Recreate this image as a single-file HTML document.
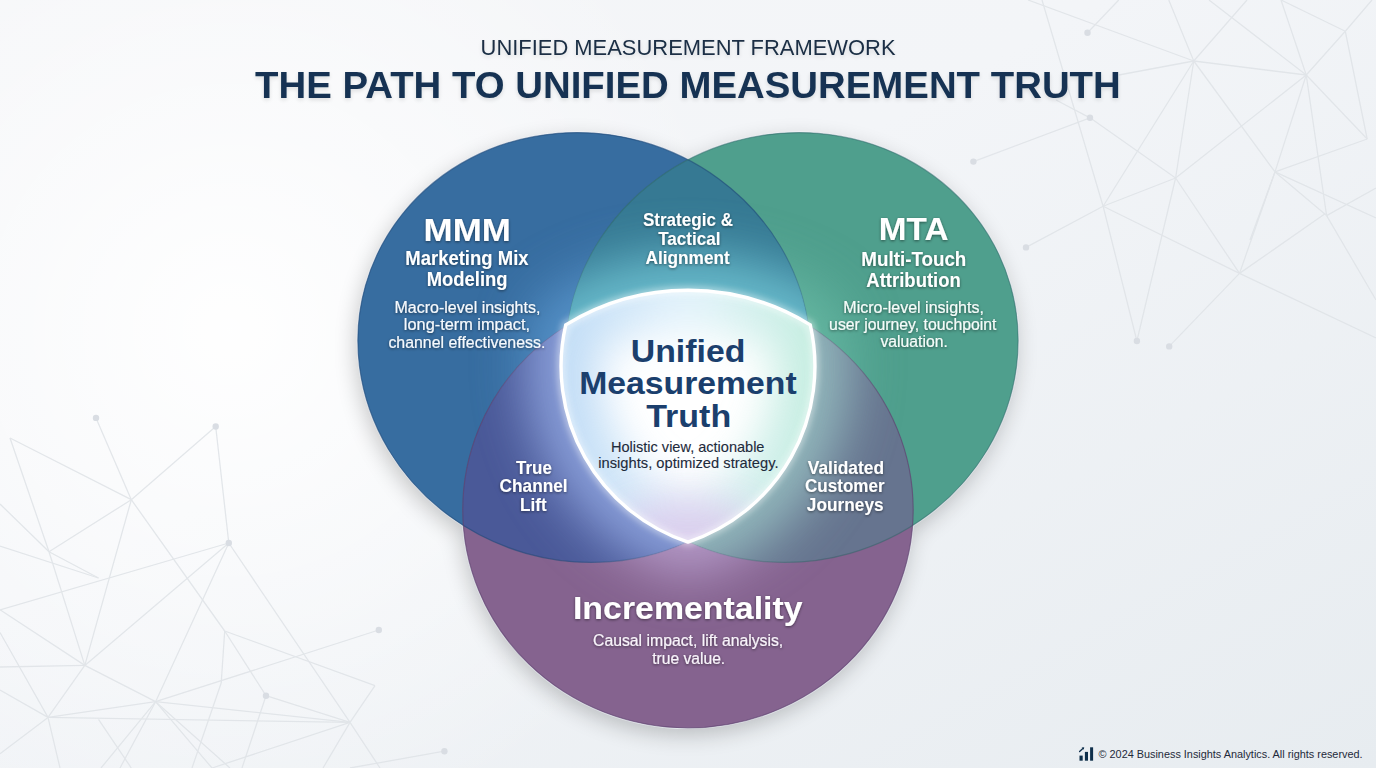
<!DOCTYPE html>
<html><head><meta charset="utf-8"><title>Unified Measurement Framework</title>
<style>
html,body{margin:0;padding:0;width:1376px;height:768px;overflow:hidden;background:#f3f4f6}
svg{display:block;font-family:"Liberation Sans",sans-serif}
</style></head><body>
<svg width="1376" height="768" viewBox="0 0 1376 768">
<defs>
 <linearGradient id="bg" x1="0" y1="0" x2="1" y2="1">
  <stop offset="0" stop-color="#f5f6f8"/><stop offset="0.4" stop-color="#f3f5f8"/><stop offset="1" stop-color="#e7ecf0"/>
 </linearGradient>
 <radialGradient id="bgr" cx="230" cy="330" r="520" gradientUnits="userSpaceOnUse"><stop offset="0" stop-color="#ffffff" stop-opacity="0.95"/><stop offset="1" stop-color="#ffffff" stop-opacity="0"/></radialGradient>
 <filter id="shadow" x="-20%" y="-20%" width="140%" height="150%">
  <feGaussianBlur in="SourceAlpha" stdDeviation="11"/><feOffset dx="-2" dy="7" result="b"/>
  <feComponentTransfer><feFuncA type="linear" slope="0.22"/></feComponentTransfer>
  <feMerge><feMergeNode/><feMergeNode in="SourceGraphic"/></feMerge>
 </filter>
 <filter id="ts" x="-10%" y="-30%" width="120%" height="160%">
  <feGaussianBlur in="SourceAlpha" stdDeviation="1.8"/><feOffset dx="0" dy="1.2"/>
  <feComponentTransfer><feFuncA type="linear" slope="0.5"/></feComponentTransfer>
  <feMerge><feMergeNode/><feMergeNode in="SourceGraphic"/></feMerge>
 </filter>
 <filter id="tsd" x="-5%" y="-30%" width="110%" height="170%">
  <feGaussianBlur in="SourceAlpha" stdDeviation="2"/><feOffset dx="0" dy="2"/>
  <feComponentTransfer><feFuncA type="linear" slope="0.12"/></feComponentTransfer>
  <feMerge><feMergeNode/><feMergeNode in="SourceGraphic"/></feMerge>
 </filter>
 <filter id="blur12" filterUnits="userSpaceOnUse" x="0" y="0" width="1376" height="768"><feGaussianBlur stdDeviation="14"/></filter>
 <filter id="blur6" filterUnits="userSpaceOnUse" x="0" y="0" width="1376" height="768"><feGaussianBlur stdDeviation="6"/></filter>
 <clipPath id="cBlue"><ellipse cx="584.18" cy="347.50" rx="227.29" ry="213.92" transform="rotate(15.82 584.18 347.50)" /></clipPath>
 <clipPath id="cGreen"><ellipse cx="791.82" cy="347.50" rx="227.29" ry="213.92" transform="rotate(-15.82 791.82 347.50)" /></clipPath>
 <clipPath id="cPurp"><ellipse cx="687.96" cy="509.68" rx="225.22" ry="218.16" transform="rotate(0 687.96 509.68)" /></clipPath>
 <clipPath id="cShield"><path d="M565.75 324.9 A233.19 233.19 0 0 1 810.25 324.9 A185.1 185.1 0 0 1 688 542.06 A185.1 185.1 0 0 1 565.75 324.9 Z"/></clipPath>
 <filter id="blurGlow" filterUnits="userSpaceOnUse" x="0" y="0" width="1376" height="768"><feGaussianBlur stdDeviation="28"/></filter>
 <filter id="blurIn" filterUnits="userSpaceOnUse" x="0" y="0" width="1376" height="768"><feGaussianBlur stdDeviation="20"/></filter>
 <filter id="blurHalo" filterUnits="userSpaceOnUse" x="0" y="0" width="1376" height="768"><feGaussianBlur stdDeviation="3"/></filter>
 <linearGradient id="ing" gradientUnits="userSpaceOnUse" x1="560" y1="0" x2="816" y2="0">
  <stop offset="0" stop-color="#a6cdf2"/><stop offset="0.5" stop-color="#d8eefa"/><stop offset="1" stop-color="#ace6d3"/>
 </linearGradient>
 <mask id="mB" maskUnits="userSpaceOnUse" x="0" y="0" width="1376" height="768"><ellipse cx="584.18" cy="347.50" rx="227.29" ry="213.92" transform="rotate(15.82 584.18 347.50)" fill="#fff"/><ellipse cx="791.82" cy="347.50" rx="227.29" ry="213.92" transform="rotate(-15.82 791.82 347.50)" fill="#000"/><ellipse cx="687.96" cy="509.68" rx="225.22" ry="218.16" transform="rotate(0 687.96 509.68)" fill="#000"/></mask>
 <mask id="mG" maskUnits="userSpaceOnUse" x="0" y="0" width="1376" height="768"><ellipse cx="791.82" cy="347.50" rx="227.29" ry="213.92" transform="rotate(-15.82 791.82 347.50)" fill="#fff"/><ellipse cx="584.18" cy="347.50" rx="227.29" ry="213.92" transform="rotate(15.82 584.18 347.50)" fill="#000"/><ellipse cx="687.96" cy="509.68" rx="225.22" ry="218.16" transform="rotate(0 687.96 509.68)" fill="#000"/></mask>
 <mask id="mP" maskUnits="userSpaceOnUse" x="0" y="0" width="1376" height="768"><ellipse cx="687.96" cy="509.68" rx="225.22" ry="218.16" transform="rotate(0 687.96 509.68)" fill="#fff"/><ellipse cx="584.18" cy="347.50" rx="227.29" ry="213.92" transform="rotate(15.82 584.18 347.50)" fill="#000"/><ellipse cx="791.82" cy="347.50" rx="227.29" ry="213.92" transform="rotate(-15.82 791.82 347.50)" fill="#000"/></mask>
 <mask id="mBG" maskUnits="userSpaceOnUse" x="0" y="0" width="1376" height="768"><g clip-path="url(#cBlue)"><ellipse cx="791.82" cy="347.50" rx="227.29" ry="213.92" transform="rotate(-15.82 791.82 347.50)" fill="#fff"/></g><ellipse cx="687.96" cy="509.68" rx="225.22" ry="218.16" transform="rotate(0 687.96 509.68)" fill="#000"/></mask>
 <mask id="mBP" maskUnits="userSpaceOnUse" x="0" y="0" width="1376" height="768"><g clip-path="url(#cBlue)"><ellipse cx="687.96" cy="509.68" rx="225.22" ry="218.16" transform="rotate(0 687.96 509.68)" fill="#fff"/></g><ellipse cx="791.82" cy="347.50" rx="227.29" ry="213.92" transform="rotate(-15.82 791.82 347.50)" fill="#000"/></mask>
 <mask id="mGP" maskUnits="userSpaceOnUse" x="0" y="0" width="1376" height="768"><g clip-path="url(#cGreen)"><ellipse cx="687.96" cy="509.68" rx="225.22" ry="218.16" transform="rotate(0 687.96 509.68)" fill="#fff"/></g><ellipse cx="584.18" cy="347.50" rx="227.29" ry="213.92" transform="rotate(15.82 584.18 347.50)" fill="#000"/></mask>
 <mask id="mBGP" maskUnits="userSpaceOnUse" x="0" y="0" width="1376" height="768"><g clip-path="url(#cGreen)"><g clip-path="url(#cBlue)"><ellipse cx="687.96" cy="509.68" rx="225.22" ry="218.16" transform="rotate(0 687.96 509.68)" fill="#fff"/></g></g></mask>
 <radialGradient id="shf" cx="688" cy="400" r="150" gradientUnits="userSpaceOnUse">
  <stop offset="0" stop-color="#ffffff"/><stop offset="0.55" stop-color="#f6fafd"/><stop offset="1" stop-color="#d9ebf6"/>
 </radialGradient>
</defs>
<rect width="1376" height="768" fill="url(#bg)"/>
<rect width="1376" height="768" fill="url(#bgr)"/>
<g stroke="#dfe3e7" stroke-width="1.3" fill="none" opacity="0.85"><line x1="1028" y1="0" x2="1193.75" y2="61"/><line x1="1118.75" y1="0" x2="1087.5" y2="32.8"/><line x1="1042" y1="0" x2="1103.1" y2="206.25"/><line x1="1168.75" y1="0" x2="1193.75" y2="61"/><line x1="1193.75" y1="61" x2="1306.25" y2="75"/><line x1="1193.75" y1="61" x2="1175.6" y2="178"/><line x1="1193.75" y1="61" x2="1103.1" y2="206.25"/><line x1="1193.75" y1="61" x2="1275" y2="171.9"/><line x1="1118.75" y1="75" x2="1193.75" y2="61"/><line x1="1209" y1="0" x2="1306.25" y2="75"/><line x1="1281" y1="0" x2="1306.25" y2="75"/><line x1="1345.3" y1="31.25" x2="1306.25" y2="75"/><line x1="1372" y1="0" x2="1345.3" y2="31.25"/><line x1="1281" y1="0" x2="1345.3" y2="31.25"/><line x1="1345.3" y1="31.25" x2="1367.2" y2="139"/><line x1="1306.25" y1="75" x2="1275" y2="171.9"/><line x1="1306.25" y1="75" x2="1175.6" y2="178"/><line x1="1306.25" y1="75" x2="1367.2" y2="139"/><line x1="1306.25" y1="75" x2="1326.6" y2="215.6"/><line x1="1090" y1="117.8" x2="1175.6" y2="178"/><line x1="1090" y1="117.8" x2="973.4" y2="161.6"/><line x1="1056" y1="100" x2="1090" y2="117.8"/><line x1="1275" y1="171.9" x2="1367.2" y2="139"/><line x1="1275" y1="171.9" x2="1326.6" y2="215.6"/><line x1="1376" y1="218" x2="1275" y2="171.9"/><line x1="1250" y1="240" x2="1275" y2="171.9"/><line x1="1175.6" y1="178" x2="1103.1" y2="206.25"/><line x1="1026" y1="247.4" x2="1103.1" y2="206.25"/><line x1="1376" y1="188" x2="1326.6" y2="215.6"/><line x1="1247" y1="0" x2="1193.75" y2="61"/><line x1="1175.6" y1="178" x2="1239.5" y2="273.4"/><line x1="1275" y1="171.9" x2="1239.5" y2="273.4"/><line x1="1103.1" y1="206.25" x2="1136.9" y2="341"/><line x1="1175.6" y1="178" x2="1136.9" y2="341"/><line x1="1239.5" y1="273.4" x2="1169.2" y2="346.4"/><line x1="1239.5" y1="273.4" x2="1376" y2="338"/><line x1="1326.6" y1="215.6" x2="1376" y2="300"/><line x1="1239.5" y1="273.4" x2="1325.4" y2="213.5"/><line x1="1103.1" y1="206.25" x2="1239.5" y2="273.4"/><line x1="96" y1="417.9" x2="131.3" y2="499.7"/><line x1="215.7" y1="426.5" x2="131.3" y2="499.7"/><line x1="215.7" y1="426.5" x2="228.8" y2="543"/><line x1="10" y1="438" x2="131.3" y2="499.7"/><line x1="10" y1="438" x2="49" y2="551.7"/><line x1="49" y1="551.7" x2="84.8" y2="665.4"/><line x1="131.3" y1="499.7" x2="49" y2="551.7"/><line x1="131.3" y1="499.7" x2="84.8" y2="665.4"/><line x1="131.3" y1="499.7" x2="224.7" y2="631"/><line x1="228.8" y1="543" x2="84.8" y2="665.4"/><line x1="228.8" y1="543" x2="155.6" y2="701.7"/><line x1="228.8" y1="543" x2="350" y2="722.4"/><line x1="0" y1="610" x2="228.8" y2="543"/><line x1="49" y1="551.7" x2="98.5" y2="578"/><line x1="0" y1="546" x2="98.5" y2="578"/><line x1="0" y1="504" x2="49" y2="551.7"/><line x1="224.7" y1="631" x2="266" y2="695.7"/><line x1="378.8" y1="630" x2="155.6" y2="701.7"/><line x1="224.7" y1="631" x2="375" y2="685.6"/><line x1="84.8" y1="665.4" x2="155.6" y2="701.7"/><line x1="84.8" y1="665.4" x2="48" y2="717.4"/><line x1="0" y1="667" x2="84.8" y2="665.4"/><line x1="155.6" y1="701.7" x2="350" y2="722.4"/><line x1="266" y1="695.7" x2="350" y2="722.4"/><line x1="350" y1="722.4" x2="375" y2="685.6"/><line x1="0" y1="690" x2="48" y2="717.4"/><line x1="60" y1="768" x2="48" y2="717.4"/><line x1="48" y1="717.4" x2="350" y2="722.4"/><line x1="120" y1="768" x2="155.6" y2="701.7"/><line x1="0" y1="609.8" x2="84.8" y2="665.4"/><line x1="0" y1="632.5" x2="48" y2="717.4"/><line x1="224.7" y1="631" x2="221.2" y2="683"/><line x1="221.2" y1="683" x2="192" y2="768"/><line x1="98.5" y1="719.4" x2="131.3" y2="768"/><line x1="155.6" y1="701.7" x2="101" y2="768"/><line x1="155.6" y1="701.7" x2="212" y2="768"/><line x1="266" y1="695.7" x2="242" y2="768"/><line x1="350" y1="722.4" x2="323" y2="768"/><line x1="350" y1="722.4" x2="212" y2="768"/><line x1="0" y1="753.7" x2="48" y2="717.4"/><line x1="230" y1="768" x2="155.6" y2="701.7"/><line x1="350" y1="722.4" x2="380" y2="768"/><line x1="444.4" y1="751.2" x2="350" y2="768"/><line x1="155.6" y1="701.7" x2="48" y2="717.4"/></g>
<g fill="#d9dde3"><circle cx="1026" cy="247.4" r="3.2"/><circle cx="1087.5" cy="32.8" r="3.2"/><circle cx="1090" cy="117.8" r="3.2"/><circle cx="973.4" cy="161.6" r="3.2"/><circle cx="1136.9" cy="341" r="3.2"/><circle cx="1169.2" cy="346.4" r="3.2"/><circle cx="96" cy="417.9" r="3.2"/><circle cx="215.7" cy="426.5" r="3.2"/><circle cx="228.8" cy="543" r="3.2"/><circle cx="378.8" cy="630" r="3.2"/><circle cx="266" cy="695.7" r="3.2"/><circle cx="444.4" cy="751.2" r="3.2"/></g>

<g filter="url(#shadow)">
 <ellipse cx="584.18" cy="347.50" rx="227.29" ry="213.92" transform="rotate(15.82 584.18 347.50)" fill="#376da0"/>
 <ellipse cx="791.82" cy="347.50" rx="227.29" ry="213.92" transform="rotate(-15.82 791.82 347.50)" fill="#4f9f8d"/>
 <ellipse cx="687.96" cy="509.68" rx="225.22" ry="218.16" transform="rotate(0 687.96 509.68)" fill="#85638f"/>
</g>
<g fill="none" stroke="#f4f8ff" stroke-width="2.4" opacity="0.6">
 <ellipse cx="584.18" cy="347.50" rx="227.29" ry="213.92" transform="rotate(15.82 584.18 347.50)" /><ellipse cx="791.82" cy="347.50" rx="227.29" ry="213.92" transform="rotate(-15.82 791.82 347.50)" /><ellipse cx="687.96" cy="509.68" rx="225.22" ry="218.16" transform="rotate(0 687.96 509.68)" />
</g>
<ellipse cx="584.18" cy="347.50" rx="227.29" ry="213.92" transform="rotate(15.82 584.18 347.50)" fill="#376da0"/>
<ellipse cx="791.82" cy="347.50" rx="227.29" ry="213.92" transform="rotate(-15.82 791.82 347.50)" fill="#4f9f8d"/>
<ellipse cx="687.96" cy="509.68" rx="225.22" ry="218.16" transform="rotate(0 687.96 509.68)" fill="#85638f"/>
<g clip-path="url(#cBlue)"><ellipse cx="791.82" cy="347.50" rx="227.29" ry="213.92" transform="rotate(-15.82 791.82 347.50)" fill="#367993"/><ellipse cx="687.96" cy="509.68" rx="225.22" ry="218.16" transform="rotate(0 687.96 509.68)" fill="#4a5998"/></g>
<g clip-path="url(#cGreen)"><ellipse cx="687.96" cy="509.68" rx="225.22" ry="218.16" transform="rotate(0 687.96 509.68)" fill="#66748f"/></g>
<g fill="none" stroke-width="1.2">
 <ellipse cx="584.18" cy="347.50" rx="227.29" ry="213.92" transform="rotate(15.82 584.18 347.50)" stroke="#1f4a78" stroke-opacity="0.6"/>
 <ellipse cx="791.82" cy="347.50" rx="227.29" ry="213.92" transform="rotate(-15.82 791.82 347.50)" stroke="#2d6466" stroke-opacity="0.5"/>
 <ellipse cx="687.96" cy="509.68" rx="225.22" ry="218.16" transform="rotate(0 687.96 509.68)" stroke="#5a3f6c" stroke-opacity="0.6"/>
</g>
<!-- glow around shield, per region -->
<g mask="url(#mB)"><path d="M565.75 324.9 A233.19 233.19 0 0 1 810.25 324.9 A185.1 185.1 0 0 1 688 542.06 A185.1 185.1 0 0 1 565.75 324.9 Z" fill="none" stroke="#62a0d8" stroke-width="64" opacity="0.8" filter="url(#blurGlow)"/></g>
<g mask="url(#mG)"><path d="M565.75 324.9 A233.19 233.19 0 0 1 810.25 324.9 A185.1 185.1 0 0 1 688 542.06 A185.1 185.1 0 0 1 565.75 324.9 Z" fill="none" stroke="#6dbfa9" stroke-width="64" opacity="0.8" filter="url(#blurGlow)"/></g>
<g mask="url(#mP)"><path d="M565.75 324.9 A233.19 233.19 0 0 1 810.25 324.9 A185.1 185.1 0 0 1 688 542.06 A185.1 185.1 0 0 1 565.75 324.9 Z" fill="none" stroke="#c7b0df" stroke-width="64" opacity="0.8" filter="url(#blurGlow)"/></g>
<g mask="url(#mBG)"><path d="M565.75 324.9 A233.19 233.19 0 0 1 810.25 324.9 A185.1 185.1 0 0 1 688 542.06 A185.1 185.1 0 0 1 565.75 324.9 Z" fill="none" stroke="#7fd8e4" stroke-width="64" opacity="0.8" filter="url(#blurGlow)"/></g>
<g mask="url(#mBP)"><path d="M565.75 324.9 A233.19 233.19 0 0 1 810.25 324.9 A185.1 185.1 0 0 1 688 542.06 A185.1 185.1 0 0 1 565.75 324.9 Z" fill="none" stroke="#a6bef6" stroke-width="64" opacity="0.8" filter="url(#blurGlow)"/></g>
<g mask="url(#mGP)"><path d="M565.75 324.9 A233.19 233.19 0 0 1 810.25 324.9 A185.1 185.1 0 0 1 688 542.06 A185.1 185.1 0 0 1 565.75 324.9 Z" fill="none" stroke="#a6d6d0" stroke-width="64" opacity="0.8" filter="url(#blurGlow)"/></g>
<g mask="url(#mBGP)"><path d="M565.75 324.9 A233.19 233.19 0 0 1 810.25 324.9 A185.1 185.1 0 0 1 688 542.06 A185.1 185.1 0 0 1 565.75 324.9 Z" fill="none" stroke="#c0d8f0" stroke-width="64" opacity="0.8" filter="url(#blurGlow)"/></g>
<path d="M565.75 324.9 A233.19 233.19 0 0 1 810.25 324.9 A185.1 185.1 0 0 1 688 542.06 A185.1 185.1 0 0 1 565.75 324.9 Z" fill="#ffffff"/>
<g clip-path="url(#cShield)">
 <path d="M565.75 324.9 A233.19 233.19 0 0 1 810.25 324.9 A185.1 185.1 0 0 1 688 542.06 A185.1 185.1 0 0 1 565.75 324.9 Z" fill="none" stroke="url(#ing)" stroke-width="80" opacity="0.7" filter="url(#blurIn)"/>
 <ellipse cx="688" cy="540" rx="80" ry="40" fill="#d9c6ea" opacity="0.8" filter="url(#blurIn)"/>
</g>
<path d="M565.75 324.9 A233.19 233.19 0 0 1 810.25 324.9 A185.1 185.1 0 0 1 688 542.06 A185.1 185.1 0 0 1 565.75 324.9 Z" fill="none" stroke="#ffffff" stroke-width="8" opacity="0.45" filter="url(#blurHalo)"/>
<path d="M565.75 324.9 A233.19 233.19 0 0 1 810.25 324.9 A185.1 185.1 0 0 1 688 542.06 A185.1 185.1 0 0 1 565.75 324.9 Z" fill="none" stroke="#ffffff" stroke-width="3.4" stroke-linejoin="miter"/>

<text x="480.58" y="55.20" font-size="21.66" font-weight="400" fill="#1a2e44" textLength="414.93" lengthAdjust="spacingAndGlyphs" filter="url(#tsd)">UNIFIED MEASUREMENT FRAMEWORK</text>
<text x="255.10" y="97.80" font-size="36.05" font-weight="700" fill="#173352" textLength="865.68" lengthAdjust="spacingAndGlyphs" filter="url(#tsd)">THE PATH TO UNIFIED MEASUREMENT TRUTH</text>
<text x="423.61" y="240.90" font-size="31.98" font-weight="700" fill="#ffffff" textLength="87.37" lengthAdjust="spacingAndGlyphs" filter="url(#ts)">MMM</text>
<text x="405.25" y="264.90" font-size="19.48" font-weight="700" fill="#ffffff" textLength="123.34" lengthAdjust="spacingAndGlyphs" filter="url(#ts)">Marketing Mix</text>
<text x="426.75" y="285.80" font-size="19.48" font-weight="700" fill="#ffffff" textLength="80.81" lengthAdjust="spacingAndGlyphs" filter="url(#ts)">Modeling</text>
<text x="394.41" y="312.90" font-size="16.13" font-weight="400" fill="#f6f9fc" textLength="146.01" lengthAdjust="spacingAndGlyphs" filter="url(#ts)" stroke="#f6f9fc" stroke-width="0.12">Macro-level insights,</text>
<text x="403.89" y="329.90" font-size="16.13" font-weight="400" fill="#f6f9fc" textLength="126.09" lengthAdjust="spacingAndGlyphs" filter="url(#ts)" stroke="#f6f9fc" stroke-width="0.12">long-term impact,</text>
<text x="388.41" y="348.00" font-size="16.13" font-weight="400" fill="#f6f9fc" textLength="156.90" lengthAdjust="spacingAndGlyphs" filter="url(#ts)" stroke="#f6f9fc" stroke-width="0.12">channel effectiveness.</text>
<text x="642.93" y="225.50" font-size="17.59" font-weight="700" fill="#ffffff" textLength="90.06" lengthAdjust="spacingAndGlyphs" filter="url(#ts)">Strategic &amp;</text>
<text x="658.20" y="245.00" font-size="17.59" font-weight="700" fill="#ffffff" textLength="62.34" lengthAdjust="spacingAndGlyphs" filter="url(#ts)">Tactical</text>
<text x="645.52" y="263.90" font-size="17.59" font-weight="700" fill="#ffffff" textLength="84.22" lengthAdjust="spacingAndGlyphs" filter="url(#ts)">Alignment</text>
<text x="878.82" y="240.40" font-size="31.98" font-weight="700" fill="#ffffff" textLength="69.70" lengthAdjust="spacingAndGlyphs" filter="url(#ts)">MTA</text>
<text x="861.34" y="265.50" font-size="19.48" font-weight="700" fill="#ffffff" textLength="104.99" lengthAdjust="spacingAndGlyphs" filter="url(#ts)">Multi-Touch</text>
<text x="866.35" y="286.50" font-size="19.48" font-weight="700" fill="#ffffff" textLength="94.46" lengthAdjust="spacingAndGlyphs" filter="url(#ts)">Attribution</text>
<text x="843.31" y="313.00" font-size="16.13" font-weight="400" fill="#f6fbf9" textLength="140.54" lengthAdjust="spacingAndGlyphs" filter="url(#ts)" stroke="#f6fbf9" stroke-width="0.12">Micro-level insights,</text>
<text x="829.12" y="329.70" font-size="16.13" font-weight="400" fill="#f6fbf9" textLength="167.34" lengthAdjust="spacingAndGlyphs" filter="url(#ts)" stroke="#f6fbf9" stroke-width="0.12">user journey, touchpoint</text>
<text x="880.50" y="346.70" font-size="16.13" font-weight="400" fill="#f6fbf9" textLength="67.35" lengthAdjust="spacingAndGlyphs" filter="url(#ts)" stroke="#f6fbf9" stroke-width="0.12">valuation.</text>
<text x="630.78" y="362.10" font-size="31.98" font-weight="700" fill="#1b3f6d" textLength="114.59" lengthAdjust="spacingAndGlyphs">Unified</text>
<text x="579.19" y="394.40" font-size="31.98" font-weight="700" fill="#1b3f6d" textLength="217.53" lengthAdjust="spacingAndGlyphs">Measurement</text>
<text x="646.20" y="426.60" font-size="31.98" font-weight="700" fill="#1b3f6d" textLength="85.03" lengthAdjust="spacingAndGlyphs">Truth</text>
<text x="611.03" y="452.30" font-size="14.97" font-weight="400" fill="#1e2b3c" textLength="153.42" lengthAdjust="spacingAndGlyphs" stroke="#1e2b3c" stroke-width="0.12">Holistic view, actionable</text>
<text x="598.32" y="467.90" font-size="14.97" font-weight="400" fill="#1e2b3c" textLength="180.25" lengthAdjust="spacingAndGlyphs" stroke="#1e2b3c" stroke-width="0.12">insights, optimized strategy.</text>
<text x="516.00" y="473.60" font-size="18.17" font-weight="700" fill="#ffffff" textLength="35.82" lengthAdjust="spacingAndGlyphs" filter="url(#ts)">True</text>
<text x="499.55" y="492.30" font-size="18.17" font-weight="700" fill="#ffffff" textLength="68.10" lengthAdjust="spacingAndGlyphs" filter="url(#ts)">Channel</text>
<text x="520.06" y="511.00" font-size="18.17" font-weight="700" fill="#ffffff" textLength="26.67" lengthAdjust="spacingAndGlyphs" filter="url(#ts)">Lift</text>
<text x="807.80" y="473.60" font-size="18.17" font-weight="700" fill="#ffffff" textLength="76.29" lengthAdjust="spacingAndGlyphs" filter="url(#ts)">Validated</text>
<text x="805.06" y="492.30" font-size="18.17" font-weight="700" fill="#ffffff" textLength="79.50" lengthAdjust="spacingAndGlyphs" filter="url(#ts)">Customer</text>
<text x="806.85" y="511.00" font-size="18.17" font-weight="700" fill="#ffffff" textLength="76.75" lengthAdjust="spacingAndGlyphs" filter="url(#ts)">Journeys</text>
<text x="572.94" y="619.10" font-size="31.40" font-weight="700" fill="#ffffff" textLength="229.69" lengthAdjust="spacingAndGlyphs" filter="url(#ts)">Incrementality</text>
<text x="593.02" y="646.40" font-size="16.13" font-weight="400" fill="#f8f4fa" textLength="190.23" lengthAdjust="spacingAndGlyphs" filter="url(#ts)" stroke="#f8f4fa" stroke-width="0.12">Causal impact, lift analysis,</text>
<text x="652.20" y="663.50" font-size="16.13" font-weight="400" fill="#f8f4fa" textLength="73.00" lengthAdjust="spacingAndGlyphs" filter="url(#ts)" stroke="#f8f4fa" stroke-width="0.12">true value.</text>
<text x="1098.54" y="758.00" font-size="11.34" font-weight="400" fill="#1e2a3a" textLength="264.03" lengthAdjust="spacingAndGlyphs">© 2024 Business Insights Analytics. All rights reserved.</text>

<g fill="#0f2f4b">
 <rect x="1079.5" y="755.6" width="3.2" height="5.1"/>
 <rect x="1084.9" y="751.9" width="3.1" height="8.8"/>
 <rect x="1090.1" y="747.3" width="3.0" height="13.4"/>
 <path d="M1079.6 751.6 L1082.6 748.8" stroke="#0f2f4b" stroke-width="1.3" stroke-linecap="round"/>
 <path d="M1084.2 747.2 L1081.6 747.6 L1083.8 749.8 Z"/>
</g>
</svg>
</body></html>
